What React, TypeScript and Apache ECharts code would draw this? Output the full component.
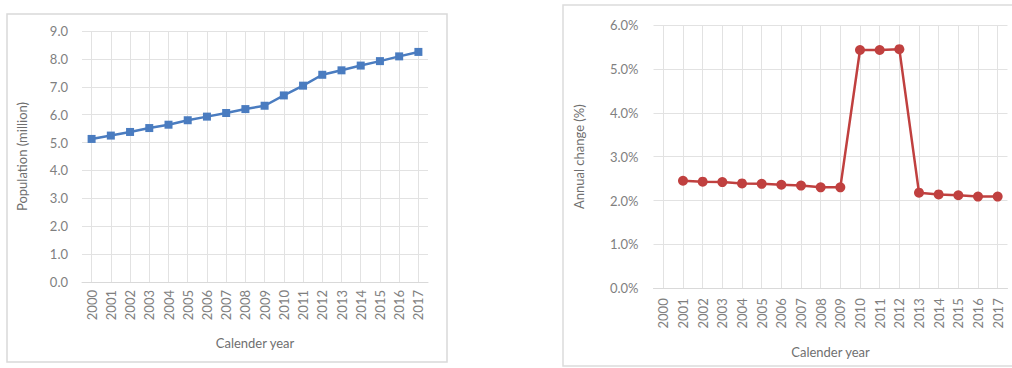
import React, { useEffect, useRef } from "react";
import * as echarts from "echarts";

// Calendar years shown on both category axes
const years = [
  "2000", "2001", "2002", "2003", "2004", "2005", "2006", "2007", "2008",
  "2009", "2010", "2011", "2012", "2013", "2014", "2015", "2016", "2017",
];

// Population in millions
const population = [
  5.13, 5.25, 5.38, 5.52, 5.64, 5.8, 5.93, 6.06, 6.2, 6.32, 6.69, 7.04, 7.43,
  7.59, 7.76, 7.92, 8.09, 8.25,
];

// Annual change in percent (no value for the first year)
const annualChange: (number | null)[] = [
  null, 2.45, 2.43, 2.42, 2.39, 2.38, 2.36, 2.34, 2.3, 2.3, 5.43, 5.43, 5.45,
  2.18, 2.14, 2.12, 2.09, 2.09,
];

const FONT = "Lato, 'Open Sans', sans-serif";
const LABEL = "#7f7f7f";
const GRID = "#e2e2e2";

function xAxisFor(gridIndex: number, labelMargin: number, nameGap: number) {
  return {
    type: "category",
    gridIndex,
    data: years,
    boundaryGap: true,
    axisLine: { show: true, lineStyle: { color: "#d9d9d9", width: 1 } },
    axisTick: { show: false },
    splitLine: { show: true, alignWithLabel: true, lineStyle: { color: GRID, width: 1 } },
    axisLabel: {
      rotate: 90,
      interval: 0,
      margin: labelMargin,
      color: LABEL,
      fontFamily: FONT,
      fontSize: 13,
    },
    name: "Calender year",
    nameLocation: "middle",
    nameGap,
    nameTextStyle: { color: "#6f6f6f", fontFamily: FONT, fontSize: 13 },
  };
}

function yAxisFor(
  gridIndex: number,
  max: number,
  name: string,
  nameGap: number,
  margin: number,
  fmt: (v: number) => string,
) {
  return {
    type: "value",
    gridIndex,
    min: 0,
    max,
    interval: 1,
    axisLine: { show: false },
    axisTick: { show: false },
    splitLine: { show: true, lineStyle: { color: GRID, width: 1 } },
    axisLabel: {
      formatter: fmt,
      margin,
      color: LABEL,
      fontFamily: FONT,
      fontSize: 13,
    },
    name,
    nameLocation: "middle",
    nameGap,
    nameTextStyle: { color: "#6f6f6f", fontFamily: FONT, fontSize: 13 },
  };
}

export default function App() {
  const ref = useRef<HTMLDivElement>(null);

  useEffect(() => {
    if (!ref.current) return;
    const chart = echarts.init(ref.current, null, { renderer: "svg" });
    chart.setOption({
      animation: false,
      backgroundColor: "#ffffff",
      grid: [
        { left: 82, top: 31, width: 346, height: 251 },
        { left: 653.5, top: 25, width: 354, height: 263.3 },
      ],
      xAxis: [xAxisFor(0, 8, 54), xAxisFor(1, 10, 57)],
      yAxis: [
        yAxisFor(0, 9, "Population (million)", 54, 14, (v) => v.toFixed(1)),
        yAxisFor(1, 6, "Annual change (%)", 68, 15, (v) => v.toFixed(1) + "%"),
      ],
      graphic: [
        {
          type: "rect",
          shape: { x: 7, y: 14, width: 440, height: 348 },
          style: { fill: "none", stroke: "#d9d9d9", lineWidth: 1.5 },
          silent: true,
        },
        {
          type: "rect",
          shape: { x: 563, y: 5, width: 470, height: 361 },
          style: { fill: "none", stroke: "#dcdcdc", lineWidth: 1.5 },
          silent: true,
        },
      ],
      series: [
        {
          type: "line",
          xAxisIndex: 0,
          yAxisIndex: 0,
          data: population,
          symbol: "rect",
          symbolSize: 8,
          lineStyle: { color: "#4a7cc0", width: 2.5 },
          itemStyle: { color: "#4a7cc0" },
        },
        {
          type: "line",
          xAxisIndex: 1,
          yAxisIndex: 1,
          data: annualChange,
          symbol: "circle",
          symbolSize: 10,
          lineStyle: { color: "#c0403f", width: 2.5 },
          itemStyle: { color: "#c0403f" },
        },
      ],
    });
    return () => chart.dispose();
  }, []);

  return (
    <div
      ref={ref}
      style={{ position: "absolute", left: 0, top: 0, width: 1012, height: 368 }}
    />
  );
}
